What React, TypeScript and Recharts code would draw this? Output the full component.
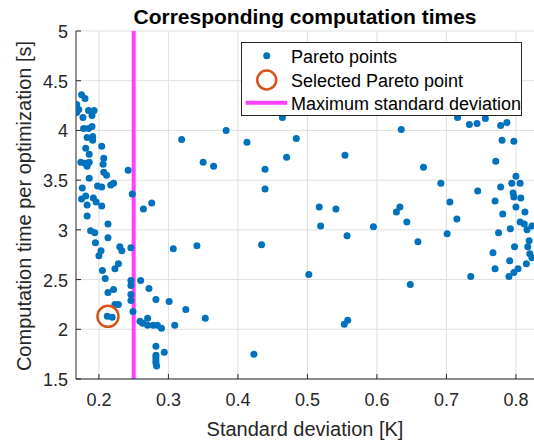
import React from "react";
import {
  ScatterChart,
  Scatter,
  XAxis,
  YAxis,
  CartesianGrid,
  ReferenceLine,
  Legend,
  Label,
} from "recharts";

const FONT = '"Liberation Sans", Arial, Helvetica, sans-serif';
const BLUE = "#0072BD";
const ORANGE = "#D95319";
const MAGENTA = "#FF40FF";
const DARK = "#262626";

const xTicks = [0.2, 0.3, 0.4, 0.5, 0.6, 0.7, 0.8];
const yTicks = [1.5, 2, 2.5, 3, 3.5, 4, 4.5, 5];

const paretoStd = [
  0.168, 0.168, 0.171, 0.175, 0.18, 0.177, 0.185, 0.193, 0.19, 0.178, 0.185, 0.19,
  0.183, 0.191, 0.191, 0.181, 0.186, 0.204, 0.174, 0.18, 0.183, 0.186, 0.207, 0.206,
  0.207, 0.211, 0.186, 0.242, 0.221, 0.217, 0.176, 0.198, 0.204, 0.248, 0.175, 0.181,
  0.192, 0.196, 0.183, 0.204, 0.264, 0.276, 0.319, 0.35, 0.365, 0.183, 0.188, 0.194,
  0.195, 0.203, 0.2, 0.213, 0.213, 0.23, 0.233, 0.246, 0.205, 0.209, 0.228, 0.223,
  0.246, 0.246, 0.26, 0.272, 0.221, 0.213, 0.246, 0.246, 0.282, 0.301, 0.223, 0.228,
  0.249, 0.325, 0.353, 0.212, 0.219, 0.259, 0.263, 0.27, 0.27, 0.278, 0.284, 0.29,
  0.309, 0.282, 0.294, 0.282, 0.282, 0.282, 0.282, 0.283, 0.307, 0.341, 0.383, 0.413,
  0.464, 0.484, 0.47, 0.439, 0.439, 0.554, 0.517, 0.541, 0.519, 0.557, 0.595, 0.434,
  0.502, 0.553, 0.558, 0.423, 0.716, 0.733, 0.744, 0.756, 0.778, 0.787, 0.78, 0.797,
  0.635, 0.667, 0.771, 0.8, 0.692, 0.778, 0.794, 0.806, 0.745, 0.796, 0.797, 0.807,
  0.8, 0.77, 0.781, 0.813, 0.705, 0.715, 0.633, 0.628, 0.643, 0.806, 0.812, 0.823,
  0.816, 0.792, 0.775, 0.701, 0.819, 0.659, 0.798, 0.817, 0.82, 0.823, 0.767, 0.791,
  0.815, 0.77, 0.803, 0.797, 0.79, 0.735, 0.648,
];

const paretoTime = [
  4.26, 4.18, 4.21, 4.36, 4.32, 4.13, 4.2, 4.2, 4.15, 4.02, 4.02, 4.04,
  3.93, 3.94, 3.9, 3.82, 3.76, 3.84, 3.68, 3.67, 3.64, 3.68, 3.72, 3.66,
  3.58, 3.55, 3.52, 3.6, 3.47, 3.45, 3.42, 3.44, 3.43, 3.36, 3.31, 3.34,
  3.32, 3.28, 3.25, 3.24, 3.21, 3.27, 3.91, 3.68, 3.64, 3.14, 2.99, 2.97,
  2.87, 2.79, 2.74, 3.06, 2.92, 2.83, 2.79, 2.82, 2.59, 2.51, 2.66, 2.61,
  2.49, 2.44, 2.49, 2.41, 2.4, 2.37, 2.35, 2.29, 2.3, 2.28, 2.25, 2.25,
  2.18, 2.2, 2.11, 2.13, 2.12, 2.08, 2.06, 2.11, 2.04, 2.04, 2.04, 2.01,
  2.04, 1.83, 1.77, 1.74, 1.71, 1.68, 1.66, 1.63, 2.81, 2.84, 4.0, 3.88,
  4.13, 3.92, 3.73, 3.61, 3.41, 3.75, 3.23, 3.21, 3.04, 2.94, 3.03, 2.85,
  2.55, 2.05, 2.09, 1.75, 4.13, 4.06, 4.07, 4.12, 4.05, 4.08, 3.9, 3.89,
  4.01, 3.63, 3.69, 3.54, 3.47, 3.43, 3.47, 3.47, 3.39, 3.37, 3.33, 3.32,
  3.23, 3.29, 3.16, 3.18, 3.28, 3.11, 3.23, 3.18, 3.08, 3.08, 3.06, 3.04,
  3.0, 3.01, 2.97, 2.96, 2.89, 2.88, 2.83, 2.83, 2.76, 2.72, 2.77, 2.69,
  2.66, 2.61, 2.61, 2.57, 2.53, 2.53, 2.45,
];

const selectedStd = [0.213];
const selectedTime = [2.13];
const maxStd = 0.25;

const paretoData = paretoStd.map((x, i) => ({ x, y: paretoTime[i] }));
const selectedData = selectedStd.map((x, i) => ({ x, y: selectedTime[i] }));

const Dot = (props: any) => <circle cx={props.cx} cy={props.cy} r={3.5} fill={BLUE} />;
const Ring = (props: any) => (
  <circle cx={props.cx} cy={props.cy} r={10.5} fill="none" stroke={ORANGE} strokeWidth={2.5} />
);

const XTick = (props: any) => {
  const { x, y, payload } = props;
  return (
    <g>
      <line x1={x} x2={x} y1={y} y2={y - 5} stroke={DARK} />
      <text x={x} y={y + 27} textAnchor="middle" fill={DARK} fontSize={18} fontFamily={FONT}>
        {payload.value}
      </text>
    </g>
  );
};

const YTick = (props: any) => {
  const { x, y, payload } = props;
  return (
    <g>
      <line x1={x} x2={x + 5} y1={y} y2={y} stroke={DARK} />
      <text x={x - 8} y={y + 7} textAnchor="end" fill={DARK} fontSize={18} fontFamily={FONT}>
        {payload.value}
      </text>
    </g>
  );
};

const legendItems = ["Pareto points", "Selected Pareto point", "Maximum standard deviation"];

const LegendBox = () => (
  <svg width={281} height={74} style={{ display: "block" }}>
    <rect x={0.5} y={0.5} width={280} height={73} fill="#fff" stroke={DARK} />
    <circle cx={25.7} cy={13.7} r={3.5} fill={BLUE} />
    <circle cx={25.7} cy={38} r={9.5} fill="none" stroke={ORANGE} strokeWidth={2.5} />
    <line x1={4.7} x2={46.3} y1={60.7} y2={60.7} stroke={MAGENTA} strokeWidth={4} />
    {legendItems.map((t, i) => (
      <text key={t} x={50} y={21.3 + i * 23.5} fontSize={18} fontFamily={FONT} fill="#000">
        {t}
      </text>
    ))}
  </svg>
);

export default function App() {
  return (
    <div style={{ position: "absolute", left: 0, top: 0, width: 534, height: 443, background: "#fff" }}>
      <ScatterChart width={534} height={443} margin={{ top: 31, right: 0, bottom: 0, left: 0 }}>
        <CartesianGrid stroke="#dfdfdf" horizontalValues={yTicks} verticalValues={xTicks} />
        <XAxis
          type="number"
          dataKey="x"
          domain={[0.167, 0.826]}
          ticks={xTicks}
          allowDataOverflow
          height={64}
          tickSize={0}
          tickMargin={0}
          tickLine={false}
          tick={<XTick />}
          stroke={DARK}
        >
          <Label
            content={() => (
              <text x={305} y={436} textAnchor="middle" fill={DARK} fontSize={20} fontFamily={FONT}>
                Standard deviation [K]
              </text>
            )}
          />
        </XAxis>
        <YAxis
          type="number"
          dataKey="y"
          domain={[1.5, 5]}
          ticks={yTicks}
          allowDataOverflow
          width={76}
          tickSize={0}
          tickMargin={0}
          tickLine={false}
          tick={<YTick />}
          stroke={DARK}
        >
          <Label
            content={() => (
              <g>
                <text
                  x={0}
                  y={0}
                  transform="translate(31,206) rotate(-90)"
                  textAnchor="middle"
                  fill={DARK}
                  fontSize={20}
                  fontFamily={FONT}
                >
                  Computation time per optimization [s]
                </text>
                <text
                  x={305}
                  y={23.5}
                  textAnchor="middle"
                  fill="#000"
                  fontSize={21}
                  fontWeight="bold"
                  fontFamily={FONT}
                >
                  Corresponding computation times
                </text>
              </g>
            )}
          />
        </YAxis>
        <Scatter data={paretoData} shape={Dot} isAnimationActive={false} />
        <ReferenceLine x={maxStd} stroke={MAGENTA} strokeWidth={4} ifOverflow="hidden" />
        <Scatter data={selectedData} shape={Ring} isAnimationActive={false} />
        <Legend
          layout="vertical"
          verticalAlign="middle"
          align="center"
          content={() => <LegendBox />}
          wrapperStyle={{ position: "absolute", left: 241, top: 42, width: 281, height: 74 }}
        />
      </ScatterChart>
    </div>
  );
}
